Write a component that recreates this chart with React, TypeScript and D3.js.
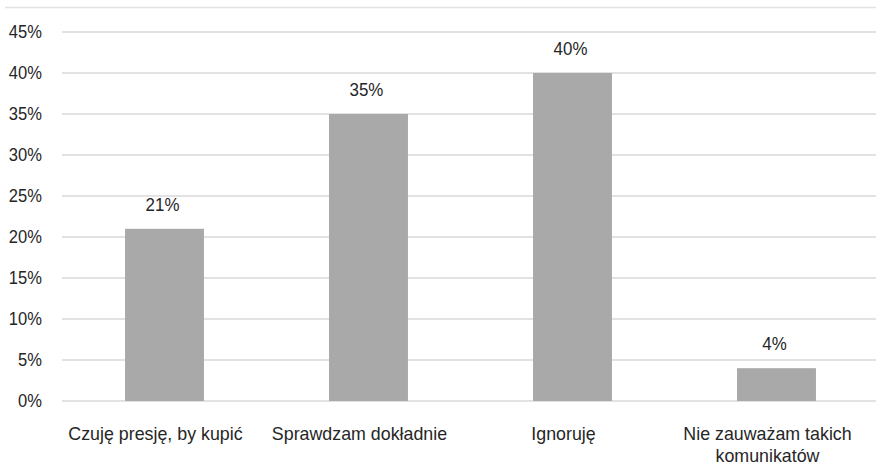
import React from "react";
import * as d3 from "d3";

const categories = [
  ["Czuję presję, by kupić"],
  ["Sprawdzam dokładnie"],
  ["Ignoruję"],
  ["Nie zauważam takich", "komunikatów"],
];
const values = [21, 35, 40, 4];
const yTicks = [0, 5, 10, 15, 20, 25, 30, 35, 40, 45];

const W = 876;
const H = 466;

export default function App() {
  const x = d3
    .scaleBand<number>()
    .domain(d3.range(values.length))
    .range([62.5, 878.5])
    .paddingInner(0.613)
    .paddingOuter(0.3065);
  const y = d3.scaleLinear().domain([0, 45]).range([401, 32]);
  const font = "'Liberation Sans', Arial, sans-serif";
  const textColor = "#262626";
  const sx = (cx: number, s: number) =>
    `translate(${cx} 0) scale(${s} 1) translate(${-cx} 0)`;

  return (
    <svg
      width={W}
      height={H}
      style={{ position: "absolute", left: 0, top: 0, background: "#fff" }}
      fontFamily={font}
    >
      <line x1={5} x2={W} y1={7.5} y2={7.5} stroke="#e2e2e2" strokeWidth={1.5} />
      {yTicks.map((t) => (
        <g key={t}>
          <line x1={62} x2={W} y1={y(t)} y2={y(t)} stroke="#d9d9d9" strokeWidth={1.5} />
          <text
            x={42}
            y={y(t) + 6.5}
            textAnchor="end"
            fontSize={18}
            fill={textColor}
            transform={sx(42, 0.92)}
          >
            {t}%
          </text>
        </g>
      ))}
      {values.map((v, i) => {
        const bx = x(i)!;
        const cx = bx + x.bandwidth() / 2;
        const vx = cx - 2;
        const lx = cx - 9;
        return (
          <g key={i}>
            <rect x={bx} y={y(v)} width={x.bandwidth()} height={y(0) - y(v)} fill="#a9a9a9" />
            <text
              x={vx}
              y={y(v) - 18}
              textAnchor="middle"
              fontSize={18}
              fill={textColor}
              transform={sx(vx, 0.94)}
            >
              {v}%
            </text>
            {categories[i].map((line, j) => (
              <text
                key={j}
                x={lx}
                y={440 + j * 22}
                textAnchor="middle"
                fontSize={18}
                fill={textColor}
                transform={sx(lx, 0.99)}
              >
                {line}
              </text>
            ))}
          </g>
        );
      })}
    </svg>
  );
}
